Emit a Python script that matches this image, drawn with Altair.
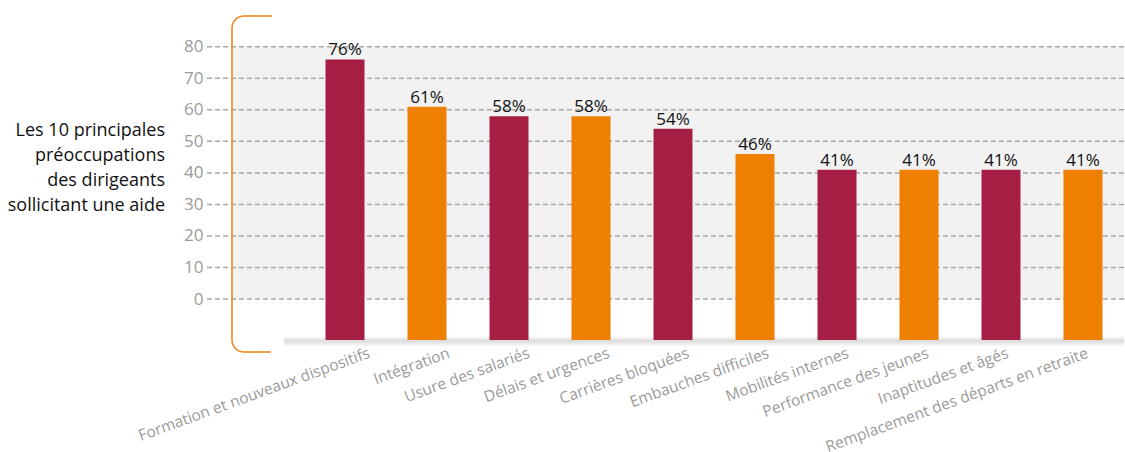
import altair as alt
import pandas as pd

categories = [
    "Formation et nouveaux dispositifs", "Intégration", "Usure des salariés",
    "Délais et urgences", "Carrières bloquées", "Embauches difficiles",
    "Mobilités internes", "Performance des jeunes", "Inaptitudes et âgés",
    "Remplacement des départs en retraite",
]
values = [76, 61, 58, 58, 54, 46, 41, 41, 41, 41]
groups = ["a", "b", "a", "b", "a", "b", "a", "b", "a", "b"]
y_ticks = [0, 10, 20, 30, 40, 50, 60, 70, 80]
title_lines = ["Les 10 principales", "préoccupations", "des dirigeants", "sollicitant une aide"]

CRIMSON = "#A71E45"
ORANGE = "#EE7F00"
BRACKET = "#F08A1C"
FONT = "Open Sans"

W, H = 820, 309
BASE = -13

df = pd.DataFrame({"cat": categories, "val": values, "grp": groups,
                   "lab": [f"{v}%" for v in values]})
ticks_df = pd.DataFrame({"v": y_ticks})

yscale = alt.Scale(domain=[BASE, 85], nice=False, zero=False)
xscale = alt.Scale(domain=categories, paddingInner=0, paddingOuter=0)

one = alt.Data(values=[{}])

background = alt.Chart(one).mark_rect(color="#f2f2f2").encode(
    x=alt.value(-72), x2=alt.value(W),
    y=alt.datum(80, scale=yscale, axis=None), y2=alt.datum(0),
)

grid = alt.Chart(ticks_df).mark_rule(color="#a8a8a8", strokeDash=[5, 3], strokeWidth=1.5).encode(
    x=alt.value(-97), x2=alt.value(W),
    y=alt.Y("v:Q", scale=yscale,
            axis=alt.Axis(values=y_ticks, title=None, domain=False, ticks=False, grid=False,
                          labelColor="#9a9a9a", labelFontSize=17, labelFont=FONT,
                          labelOverlap=False, labelPadding=0, offset=101)),
)

shadow = alt.Chart(one).mark_rect(
    color=alt.Gradient(gradient="linear", x1=0, x2=0, y1=0, y2=1,
                       stops=[alt.GradientStop(color="#ffffff", offset=0),
                              alt.GradientStop(color="#d2d2d2", offset=0.45),
                              alt.GradientStop(color="#ffffff", offset=1)]),
    opacity=0.8,
).encode(x=alt.value(-20), x2=alt.value(W), y=alt.value(H - 4), y2=alt.value(H + 7))

bars = alt.Chart(df).mark_bar(size=39).encode(
    x=alt.X("cat:N", sort=categories, scale=xscale, axis=None),
    y=alt.Y("val:Q", scale=yscale, axis=None),
    y2=alt.datum(BASE),
    color=alt.Color("grp:N", scale=alt.Scale(domain=["a", "b"], range=[CRIMSON, ORANGE]), legend=None),
)

bar_labels = alt.Chart(df).mark_text(baseline="bottom", dy=0, fontSize=17, font=FONT, color="#111111").encode(
    x=alt.X("cat:N", sort=categories, scale=xscale, axis=None),
    y=alt.Y("val:Q", scale=yscale, axis=None),
    text="lab:N",
)

xlabels = alt.Chart(df).mark_text(angle=340, align="right", baseline="top", fontSize=15.5,
                                  font=FONT, color="#9a9a9a").encode(
    x=alt.X("cat:N", sort=categories,
            scale=alt.Scale(domain=categories, range=[23, 821], paddingInner=0, paddingOuter=0),
            axis=None),
    y=alt.value(H + 6),
    text="cat:N",
)

left_title = alt.Chart(one).mark_text(align="right", baseline="middle", fontSize=18, font=FONT,
                                      lineHeight=25, color="#111111").encode(
    x=alt.value(-139), y=alt.value(99.5), text=alt.value(title_lines),
)

bw = 1.6
vline = alt.Chart(one).mark_rule(color=BRACKET, strokeWidth=bw).encode(
    x=alt.value(-72), y=alt.value(-3), y2=alt.value(309))
htop = alt.Chart(one).mark_rule(color=BRACKET, strokeWidth=bw).encode(
    x=alt.value(-60), x2=alt.value(-32), y=alt.value(-15))
hbot = alt.Chart(one).mark_rule(color=BRACKET, strokeWidth=bw).encode(
    x=alt.value(-60), x2=alt.value(-33), y=alt.value(321))
arc_top = alt.Chart(one).mark_arc(color=BRACKET, radius=12 + bw / 2, radius2=12 - bw / 2,
                                  theta=4.71239, theta2=6.28319).encode(
    x=alt.value(-60), y=alt.value(-3))
arc_bot = alt.Chart(one).mark_arc(color=BRACKET, radius=12 + bw / 2, radius2=12 - bw / 2,
                                  theta=3.14159, theta2=4.71239).encode(
    x=alt.value(-60), y=alt.value(309))

chart = alt.layer(
    background, grid, shadow, bars, bar_labels, xlabels, left_title,
    vline, htop, hbot, arc_top, arc_bot,
).resolve_scale(x="independent").resolve_axis(y="independent").properties(
    width=W, height=H,
    autosize=alt.AutoSizeParams(type="none"),
    padding={"left": 304, "top": 31, "right": 1, "bottom": 112},
).configure_view(stroke=None)

chart.save("out.html", embed_options={"renderer": "svg", "actions": False})
